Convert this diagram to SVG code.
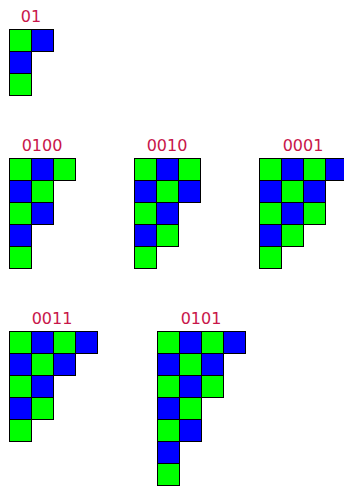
<svg xmlns="http://www.w3.org/2000/svg" width="344" height="487" viewBox="0 0 344 487">
<style>
.g{fill:#00ff00;stroke:#000;stroke-width:1}
.b{fill:#0000ff;stroke:#000;stroke-width:1}
.t{font-family:"DejaVu Sans",sans-serif;font-size:16px;fill:#c8164a;text-anchor:middle}
</style>
<rect width="344" height="487" fill="#fff"/>
<g id="n01">
<text class="t" x="31" y="22">01</text>
<rect class="g" x="9.5" y="29.5" width="22" height="22"/><rect class="b" x="31.5" y="29.5" width="22" height="22"/>
<rect class="b" x="9.5" y="51.5" width="22" height="22"/>
<rect class="g" x="9.5" y="73.5" width="22" height="22"/>
</g>
<g id="n0100">
<text class="t" x="42" y="151">0100</text>
<rect class="g" x="9.5" y="158.5" width="22" height="22"/><rect class="b" x="31.5" y="158.5" width="22" height="22"/><rect class="g" x="53.5" y="158.5" width="22" height="22"/>
<rect class="b" x="9.5" y="180.5" width="22" height="22"/><rect class="g" x="31.5" y="180.5" width="22" height="22"/>
<rect class="g" x="9.5" y="202.5" width="22" height="22"/><rect class="b" x="31.5" y="202.5" width="22" height="22"/>
<rect class="b" x="9.5" y="224.5" width="22" height="22"/>
<rect class="g" x="9.5" y="246.5" width="22" height="22"/>
</g>
<g id="n0010">
<text class="t" x="167" y="151">0010</text>
<rect class="g" x="134.5" y="158.5" width="22" height="22"/><rect class="b" x="156.5" y="158.5" width="22" height="22"/><rect class="g" x="178.5" y="158.5" width="22" height="22"/>
<rect class="b" x="134.5" y="180.5" width="22" height="22"/><rect class="g" x="156.5" y="180.5" width="22" height="22"/><rect class="b" x="178.5" y="180.5" width="22" height="22"/>
<rect class="g" x="134.5" y="202.5" width="22" height="22"/><rect class="b" x="156.5" y="202.5" width="22" height="22"/>
<rect class="b" x="134.5" y="224.5" width="22" height="22"/><rect class="g" x="156.5" y="224.5" width="22" height="22"/>
<rect class="g" x="134.5" y="246.5" width="22" height="22"/>
</g>
<g id="n0001">
<text class="t" x="303" y="151">0001</text>
<rect class="g" x="259.5" y="158.5" width="22" height="22"/><rect class="b" x="281.5" y="158.5" width="22" height="22"/><rect class="g" x="303.5" y="158.5" width="22" height="22"/><rect class="b" x="325.5" y="158.5" width="22" height="22"/>
<rect class="b" x="259.5" y="180.5" width="22" height="22"/><rect class="g" x="281.5" y="180.5" width="22" height="22"/><rect class="b" x="303.5" y="180.5" width="22" height="22"/>
<rect class="g" x="259.5" y="202.5" width="22" height="22"/><rect class="b" x="281.5" y="202.5" width="22" height="22"/><rect class="g" x="303.5" y="202.5" width="22" height="22"/>
<rect class="b" x="259.5" y="224.5" width="22" height="22"/><rect class="g" x="281.5" y="224.5" width="22" height="22"/>
<rect class="g" x="259.5" y="246.5" width="22" height="22"/>
</g>
<g id="n0011">
<text class="t" x="52" y="324">0011</text>
<rect class="g" x="9.5" y="331.5" width="22" height="22"/><rect class="b" x="31.5" y="331.5" width="22" height="22"/><rect class="g" x="53.5" y="331.5" width="22" height="22"/><rect class="b" x="75.5" y="331.5" width="22" height="22"/>
<rect class="b" x="9.5" y="353.5" width="22" height="22"/><rect class="g" x="31.5" y="353.5" width="22" height="22"/><rect class="b" x="53.5" y="353.5" width="22" height="22"/>
<rect class="g" x="9.5" y="375.5" width="22" height="22"/><rect class="b" x="31.5" y="375.5" width="22" height="22"/>
<rect class="b" x="9.5" y="397.5" width="22" height="22"/><rect class="g" x="31.5" y="397.5" width="22" height="22"/>
<rect class="g" x="9.5" y="419.5" width="22" height="22"/>
</g>
<g id="n0101">
<text class="t" x="201" y="324">0101</text>
<rect class="g" x="157.5" y="331.5" width="22" height="22"/><rect class="b" x="179.5" y="331.5" width="22" height="22"/><rect class="g" x="201.5" y="331.5" width="22" height="22"/><rect class="b" x="223.5" y="331.5" width="22" height="22"/>
<rect class="b" x="157.5" y="353.5" width="22" height="22"/><rect class="g" x="179.5" y="353.5" width="22" height="22"/><rect class="b" x="201.5" y="353.5" width="22" height="22"/>
<rect class="g" x="157.5" y="375.5" width="22" height="22"/><rect class="b" x="179.5" y="375.5" width="22" height="22"/><rect class="g" x="201.5" y="375.5" width="22" height="22"/>
<rect class="b" x="157.5" y="397.5" width="22" height="22"/><rect class="g" x="179.5" y="397.5" width="22" height="22"/>
<rect class="g" x="157.5" y="419.5" width="22" height="22"/><rect class="b" x="179.5" y="419.5" width="22" height="22"/>
<rect class="b" x="157.5" y="441.5" width="22" height="22"/>
<rect class="g" x="157.5" y="463.5" width="22" height="22"/>
</g>
</svg>
